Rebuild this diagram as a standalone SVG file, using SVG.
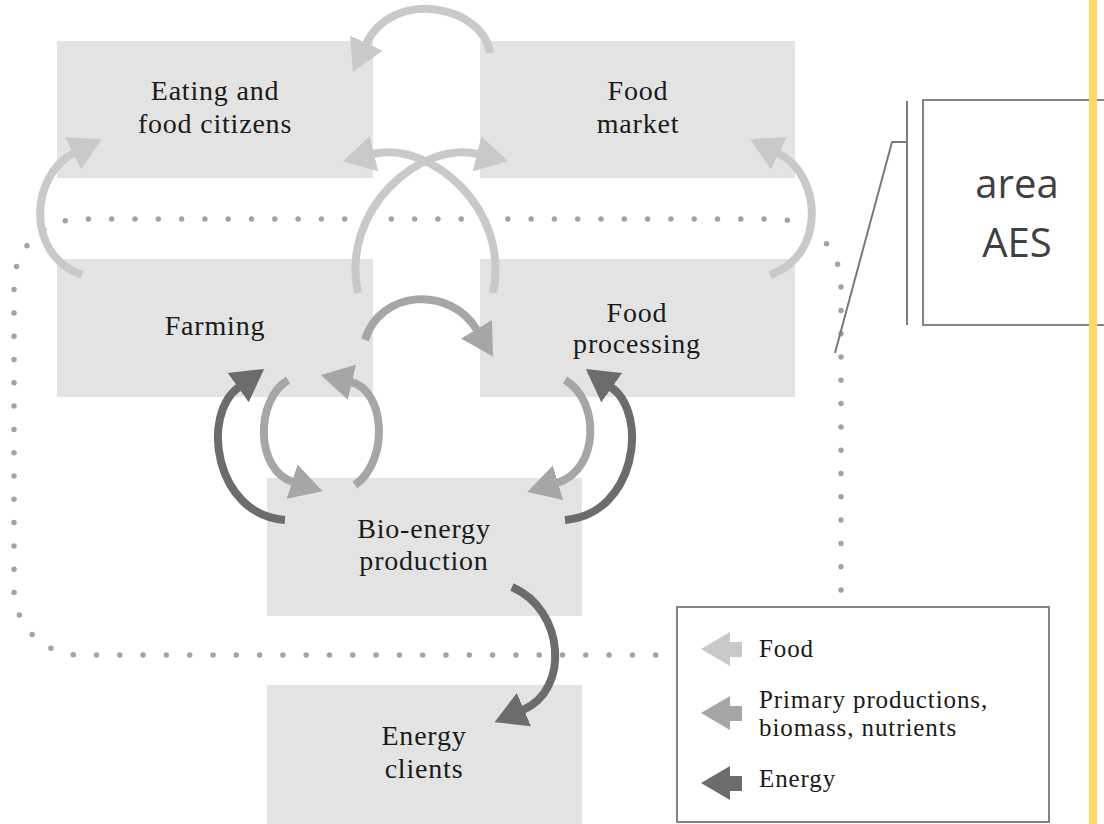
<svg xmlns="http://www.w3.org/2000/svg" width="1104" height="824" viewBox="0 0 1104 824">
<defs>
<style>
.box{fill:#e3e3e3}
.lbl{font-family:"Liberation Serif","Times New Roman",serif;font-size:28px;fill:#1a1a1a;text-anchor:middle;letter-spacing:0.8px}
.leg{font-family:"Liberation Serif","Times New Roman",serif;font-size:25px;fill:#1a1a1a;letter-spacing:0.9px}
.aes{font-family:"Open Sans","Noto Sans",sans-serif;font-size:40px;fill:#404040;text-anchor:middle}
.arc{fill:none;stroke-width:8}
.food{stroke:#c9c9c9}
.prim{stroke:#a6a6a6}
.ener{stroke:#6c6c6c}
.dots{fill:none;stroke:#a3a3a3;stroke-width:5.5;stroke-linecap:round;stroke-dasharray:0 23.3}
.frame{fill:#fff;stroke:#858585;stroke-width:2}
.call{fill:none;stroke:#7a7a7a;stroke-width:2}
</style>
<marker id="hFood" viewBox="0 -20 34 40" markerWidth="34" markerHeight="40" refX="1" refY="0" orient="auto" markerUnits="userSpaceOnUse"><path d="M0,-18 L32,0 L0,18 z" fill="#c9c9c9"/></marker>
<marker id="hPrim" viewBox="0 -20 34 40" markerWidth="34" markerHeight="40" refX="1" refY="0" orient="auto" markerUnits="userSpaceOnUse"><path d="M0,-18 L32,0 L0,18 z" fill="#a6a6a6"/></marker>
<marker id="hEner" viewBox="0 -20 34 40" markerWidth="34" markerHeight="40" refX="1" refY="0" orient="auto" markerUnits="userSpaceOnUse"><path d="M0,-18 L32,0 L0,18 z" fill="#6c6c6c"/></marker>
</defs>
<rect x="0" y="0" width="1104" height="824" fill="#fff"/>

<g id="eating"><rect class="box" x="57" y="41" width="316" height="137"/><text class="lbl" x="215" y="100">Eating and</text><text class="lbl" x="215" y="133">food citizens</text></g>
<g id="market"><rect class="box" x="480" y="41" width="315" height="137"/><text class="lbl" x="638" y="100">Food</text><text class="lbl" x="638" y="133">market</text></g>
<g id="farming"><rect class="box" x="57" y="259" width="316" height="138"/><text class="lbl" x="215" y="335">Farming</text></g>
<g id="processing"><rect class="box" x="480" y="259" width="315" height="138"/><text class="lbl" x="637" y="322">Food</text><text class="lbl" x="637" y="353">processing</text></g>
<g id="bioenergy"><rect class="box" x="267" y="478" width="315" height="138"/><text class="lbl" x="424" y="538">Bio-energy</text><text class="lbl" x="424" y="570">production</text></g>
<g id="clients"><rect class="box" x="267" y="685" width="315" height="139"/><text class="lbl" x="424" y="745">Energy</text><text class="lbl" x="424" y="778">clients</text></g>

<g id="aes-boundary"><path class="dots" d="M841,590 L841,285 A66,66 0 0 0 775,219 L80,219 A66,66 0 0 0 14,285 L14,589 A66,66 0 0 0 80,655 L668,655"/></g>

<g id="connectors">
<path class="arc food" d="M490,53 C483,5 392,-12 366,44" marker-end="url(#hFood)"/>
<path class="arc food" d="M358,293 C340,210 420,140 478,154" marker-end="url(#hFood)"/>
<path class="arc food" d="M493,293 C511,210 431,140 373,154" marker-end="url(#hFood)"/>
<path class="arc food" d="M82,275 C25,255 30,175 74,153" marker-end="url(#hFood)"/>
<path class="arc food" d="M770,275 C827,255 822,175 778,153" marker-end="url(#hFood)"/>
<path class="arc prim" d="M365,340 C380,290 450,285 477,330" marker-end="url(#hPrim)"/>
<path class="arc prim" d="M355,485 C390,460 385,390 351,382" marker-end="url(#hPrim)"/>
<path class="arc prim" d="M288,380 C255,400 255,470 293,482" marker-end="url(#hPrim)"/>
<path class="arc ener" d="M285,520 C215,515 200,415 239,387" marker-end="url(#hEner)"/>
<path class="arc prim" d="M565,380 C600,400 600,470 557,483" marker-end="url(#hPrim)"/>
<path class="arc ener" d="M565,520 C635,515 650,415 611,387" marker-end="url(#hEner)"/>
<path class="arc ener" d="M512,587 C565,610 570,690 523,710" marker-end="url(#hEner)"/>
</g>

<g id="legend">
<rect class="frame" x="677" y="607" width="372" height="215"/>
<polygon points="701,649 730,632 730,642 742,642 742,657 730,657 730,666" fill="#c9c9c9"/>
<text class="leg" x="759" y="657">Food</text>
<polygon points="701,713 730,696 730,706 742,706 742,721 730,721 730,730" fill="#a6a6a6"/>
<text class="leg" x="759" y="708">Primary productions,</text>
<text class="leg" x="759" y="736">biomass, nutrients</text>
<polygon points="701,783 730,766 730,776 742,776 742,791 730,791 730,800" fill="#6c6c6c"/>
<text class="leg" x="759" y="787">Energy</text>
</g>

<g id="aes-callout">
<rect class="frame" x="923" y="100" width="200" height="225"/>
<line class="call" x1="907" y1="101" x2="907" y2="325"/>
<polyline class="call" points="907,142 892,142 835,353"/>
<text class="aes" x="1017" y="198">area</text>
<text class="aes" x="1017" y="257">AES</text>
</g>
<rect id="yellow-bar" x="1089" y="0" width="8" height="824" fill="#ffd966"/>
</svg>
